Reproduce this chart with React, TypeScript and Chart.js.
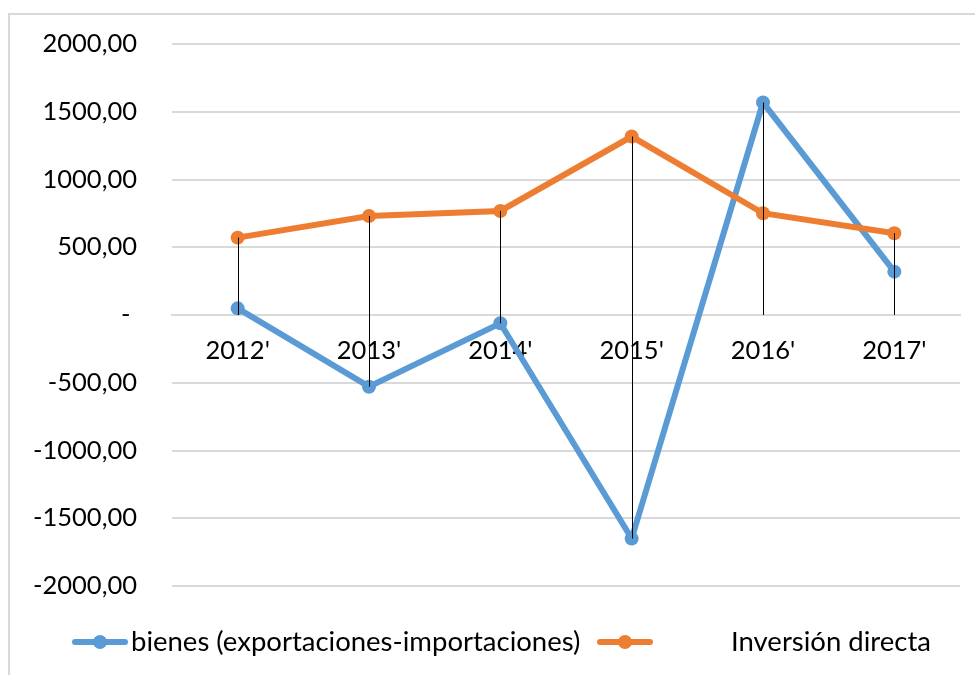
import { useEffect, useRef } from 'react';
import { Chart, registerables } from 'chart.js';

Chart.register(...registerables);

const categories = ["2012'", "2013'", "2014'", "2015'", "2016'", "2017'"];
const bienes = [49, -529, -61, -1650, 1568, 320];
const inversion = [571, 731, 768, 1317, 751, 603];
const seriesNames = ['bienes (exportaciones-importaciones)', 'Inversión directa'];

const BLUE = '#5B9BD5';
const ORANGE = '#ED7D31';
const FONT = 'Lato';
const TICK_SIZE = 25.5;
const LEGEND_SIZE = 27.5;
const GRID = '#d9d9d9';

const dropLines = {
  id: 'dropLines',
  afterDatasetsDraw(chart: any) {
    const ctx = chart.ctx;
    const y0 = chart.scales.y.getPixelForValue(0);
    ctx.save();
    ctx.strokeStyle = '#000';
    ctx.lineWidth = 1;
    chart.data.datasets.forEach((_ds: any, i: number) => {
      const meta = chart.getDatasetMeta(i);
      meta.data.forEach((pt: any) => {
        const x = Math.round(pt.x) + 0.5;
        ctx.beginPath();
        ctx.moveTo(x, pt.y);
        ctx.lineTo(x, y0);
        ctx.stroke();
      });
    });
    ctx.restore();
  },
};

const excelLegend = {
  id: 'excelLegend',
  afterDraw(chart: any) {
    const ctx = chart.ctx;
    const y = 642;
    const slots = [
      { lineX: 72, textX: 131 },
      { lineX: 597, textX: 731 },
    ];
    ctx.save();
    chart.data.datasets.forEach((ds: any, i: number) => {
      const s = slots[i];
      ctx.strokeStyle = ds.borderColor;
      ctx.lineWidth = 6;
      ctx.lineCap = 'round';
      ctx.beginPath();
      ctx.moveTo(s.lineX + 3, y);
      ctx.lineTo(s.lineX + 53, y);
      ctx.stroke();
      ctx.fillStyle = ds.borderColor;
      ctx.beginPath();
      ctx.arc(s.lineX + 28, y, 7, 0, Math.PI * 2);
      ctx.fill();
      ctx.fillStyle = '#000';
      ctx.font = `${LEGEND_SIZE}px ${FONT}`;
      ctx.textBaseline = 'middle';
      ctx.textAlign = 'left';
      ctx.fillText(ds.label, s.textX, y);
    });
    ctx.restore();
  },
};

export default function App() {
  const ref = useRef<HTMLCanvasElement>(null);

  useEffect(() => {
    if (!ref.current) return;
    const chart = new Chart(ref.current, {
      type: 'line',
      data: {
        labels: categories,
        datasets: [
          {
            label: seriesNames[0],
            data: bienes,
            borderColor: BLUE,
            backgroundColor: BLUE,
            borderWidth: 6,
            pointRadius: 7,
            pointBorderWidth: 0,
            pointBackgroundColor: BLUE,
            tension: 0,
            order: 1,
          },
          {
            label: seriesNames[1],
            data: inversion,
            borderColor: ORANGE,
            backgroundColor: ORANGE,
            borderWidth: 6,
            pointRadius: 7,
            pointBorderWidth: 0,
            pointBackgroundColor: ORANGE,
            tension: 0,
            order: 0,
          },
        ],
      },
      options: {
        animation: false,
        responsive: false,
        devicePixelRatio: 1,
        layout: { padding: { left: 0, top: 44, right: 15, bottom: 89 } },
        plugins: {
          legend: { display: false },
          tooltip: { enabled: false },
        },
        scales: {
          x: {
            position: { y: 0 } as any,
            offset: true,
            afterFit(scale: any) {
              scale.paddingTop = 0;
              scale.paddingBottom = 0;
              scale.paddingLeft = 0;
              scale.paddingRight = 0;
              scale.height = 0;
            },
            grid: { display: false, drawTicks: false },
            border: { display: true, color: GRID, width: 2 },
            ticks: {
              color: '#000',
              font: { family: FONT, size: TICK_SIZE },
              padding: 20,
              maxRotation: 0,
              autoSkip: false,
            },
          },
          y: {
            min: -2000,
            max: 2000,
            afterFit(scale: any) {
              scale.width = 172;
              scale.paddingTop = 0;
              scale.paddingBottom = 0;
            },
            grid: { color: GRID, lineWidth: 2, drawTicks: false },
            border: { display: false },
            ticks: {
              stepSize: 500,
              color: '#000',
              font: { family: FONT, size: TICK_SIZE },
              padding: 35,
              callback: (v: any) => (Number(v) === 0 ? '- ' : Number(v).toFixed(2).replace('.', ',')),
            },
          },
        },
      },
      plugins: [dropLines, excelLegend],
    });
    return () => chart.destroy();
  }, []);

  return (
    <div>
      <div
        style={{
          position: 'absolute',
          left: 8,
          top: 13,
          width: 967,
          height: 662,
          borderTop: `2px solid ${GRID}`,
          borderLeft: `2px solid ${GRID}`,
          boxSizing: 'border-box',
        }}
      />
      <canvas
        ref={ref}
        width={975}
        height={675}
        style={{ position: 'absolute', left: 0, top: 0, width: 975, height: 675 }}
      />
    </div>
  );
}
